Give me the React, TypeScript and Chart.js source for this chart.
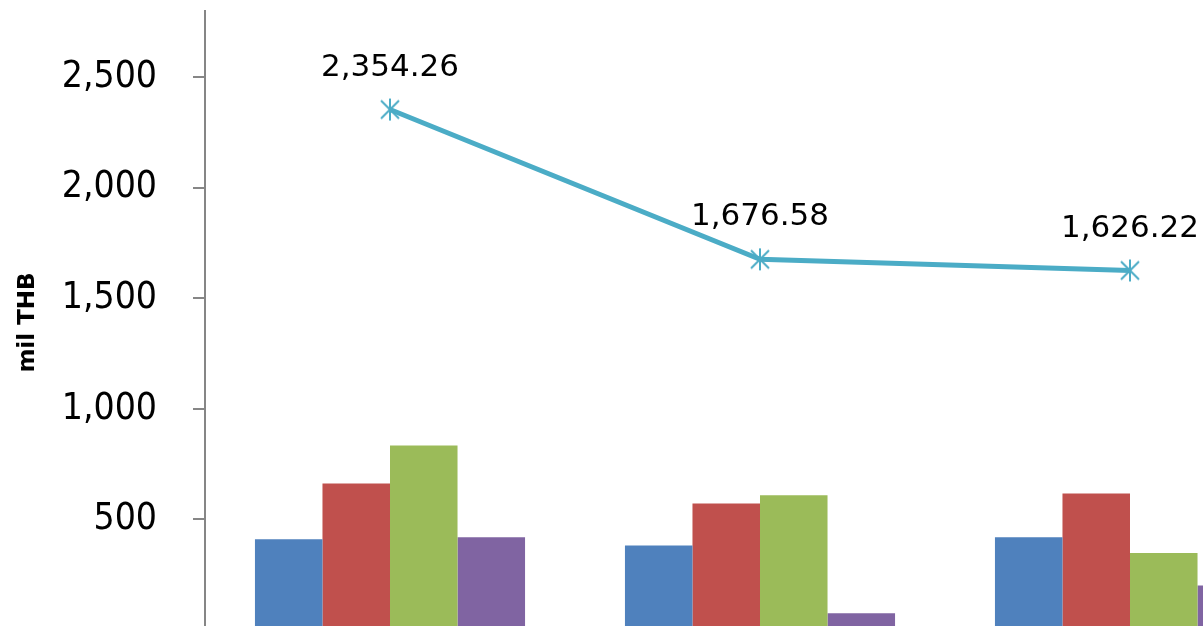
import { useEffect, useRef } from 'react';
import { Chart, registerables } from 'chart.js';

Chart.register(...registerables);

// ---- data ----
const categories = ['Period 1', 'Period 2', 'Period 3'];
const seriesNames = ['Series 1', 'Series 2', 'Series 3', 'Series 4'];
const series1 = [410, 382, 419];
const series2 = [663, 572, 618];
const series3 = [835, 609, 348];
const series4 = [419, 76, 201];
const totalName = 'Total';
const totalLine = [2354.26, 1676.58, 1626.22];
const yTicks = [500, 1000, 1500, 2000, 2500];
const yMax = 2800;
const axisTitle = 'mil THB';

const barColors = ['#4F81BD', '#C0504D', '#9BBB59', '#8064A2'];
const lineColor = '#4BACC6';

function makeMarker(color: string) {
  const c = document.createElement('canvas');
  const s = 24;
  c.width = s;
  c.height = s;
  const g = c.getContext('2d')!;
  g.strokeStyle = color;
  g.lineWidth = 2;
  g.beginPath();
  g.moveTo(3, 3); g.lineTo(s - 3, s - 3);
  g.moveTo(s - 3, 3); g.lineTo(3, s - 3);
  g.moveTo(s / 2, 1); g.lineTo(s / 2, s - 1);
  g.stroke();
  return c;
}

const fmt = (v: number) =>
  v.toLocaleString('en-US', { minimumFractionDigits: 2, maximumFractionDigits: 2 });

export default function App() {
  const ref = useRef<HTMLCanvasElement | null>(null);

  useEffect(() => {
    if (!ref.current) return;
    const marker = makeMarker(lineColor);

    const labelPlugin = {
      id: 'labelsAndTitle',
      afterDatasetsDraw(chart: any) {
        const ctx = chart.ctx;
        const meta = chart.getDatasetMeta(4);
        ctx.save();
        ctx.fillStyle = '#000';
        ctx.font = '31px "DejaVu Sans"';
        ctx.textAlign = 'center';
        ctx.textBaseline = 'middle';
        meta.data.forEach((pt: any, i: number) => {
          ctx.fillText(fmt(totalLine[i]), pt.x, pt.y - 42);
        });
        ctx.restore();

        const ca = chart.chartArea;
        ctx.save();
        ctx.translate(28.5, (ca.top + ca.bottom) / 2 + 2);
        ctx.rotate(-Math.PI / 2);
        ctx.font = 'bold 23px "DejaVu Sans"';
        ctx.fillStyle = '#000';
        ctx.textAlign = 'center';
        ctx.textBaseline = 'middle';
        ctx.fillText(axisTitle, 0, 0);
        ctx.restore();
      },
    };

    const barSets = [series1, series2, series3, series4].map((d, i) => ({
      type: 'bar' as const,
      label: seriesNames[i],
      data: d,
      backgroundColor: barColors[i],
      borderWidth: 0,
      categoryPercentage: 0.73,
      barPercentage: 1.0,
      order: 1,
    }));

    const chart = new Chart(ref.current, {
      type: 'bar',
      data: {
        labels: categories,
        datasets: [
          ...barSets,
          {
            type: 'line' as const,
            label: totalName,
            data: totalLine,
            borderColor: lineColor,
            backgroundColor: lineColor,
            borderWidth: 5,
            pointStyle: marker as any,
            pointRadius: 12,
            tension: 0,
            order: 0,
          } as any,
        ],
      },
      options: {
        responsive: false,
        animation: false,
        devicePixelRatio: 1,
        layout: { autoPadding: false, padding: { top: 11, bottom: 10, left: 0, right: 15 } },
        plugins: {
          legend: { display: false },
          tooltip: { enabled: false },
          title: { display: false },
        },
        scales: {
          x: {
            display: false,
            offset: true,
          },
          y: {
            min: 0,
            max: yMax,
            afterBuildTicks: (scale: any) => {
              scale.ticks = yTicks.map((v) => ({ value: v }));
            },
            afterFit: (scale: any) => {
              scale.width = 205;
              scale.paddingTop = 0;
              scale.paddingBottom = 0;
            },
            border: { display: true, color: '#868686', width: 2 },
            grid: {
              display: true,
              drawOnChartArea: false,
              drawTicks: true,
              tickLength: 12,
              color: '#868686',
              lineWidth: 2,
            },
            ticks: {
              padding: 36,
              color: '#000',
              font: { family: '"DejaVu Sans Condensed", "Liberation Sans", sans-serif', size: 37 },
              callback: (v: any) => Number(v).toLocaleString('en-US'),
            },
          },
        },
      },
      plugins: [labelPlugin],
    });

    return () => chart.destroy();
  }, []);

  return (
    <div
      style={{
        position: 'fixed',
        left: 0,
        top: 0,
        width: 1203,
        height: 626,
        overflow: 'hidden',
        background: '#fff',
      }}
    >
      <canvas ref={ref} width={1330} height={640} style={{ display: 'block', width: 1330, height: 640 }} />
    </div>
  );
}
